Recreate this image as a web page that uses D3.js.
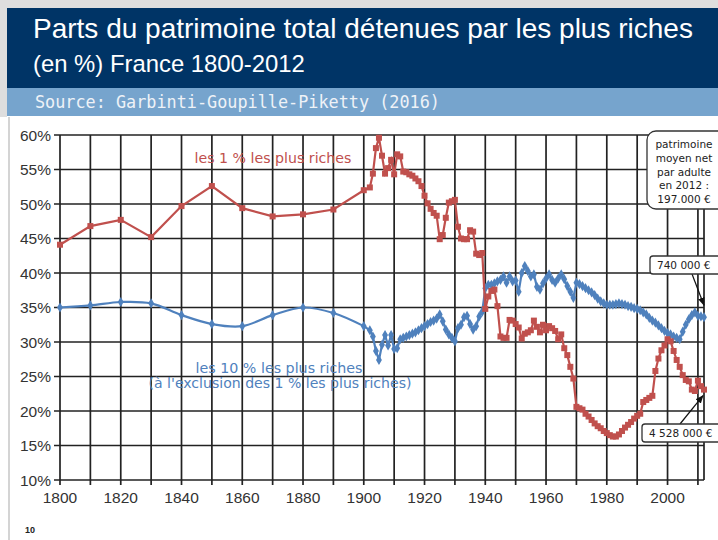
<!DOCTYPE html>
<html><head><meta charset="utf-8">
<script src="https://cdn.jsdelivr.net/npm/d3@7"></script>
<style>body{margin:0;background:#fff}svg{display:block}</style>
</head><body><svg id="c" width="718" height="540"></svg>
<script>
// ---------- data ----------
const decadeYears = [1800,1810,1820,1830,1840,1850,1860,1870,1880,1890,1900];
const annualYears = d3.range(1902, 2013);
const years = decadeYears.concat(annualYears);

const top1 = [
 44.1,46.8,47.7,45.2,49.7,52.6,49.4,48.2,48.5,49.2,52.0,
 52.4,54.4,58.1,59.6,57.0,54.4,55.2,56.4,54.3,57.2,
 56.9,54.7,54.6,54.3,54.1,53.7,53.3,52.6,51.2,50.1,
 49.3,48.7,48.3,44.9,45.5,48.0,50.2,50.4,50.6,46.7,
 45.0,44.9,44.9,46.2,46.0,42.8,42.6,42.9,34.8,36.6,
 37.4,37.6,35.2,30.8,30.6,30.6,33.2,33.1,32.6,32.1,
 30.5,31.2,31.4,31.7,33.1,32.2,31.4,32.5,31.7,32.3,
 32.0,31.6,30.4,31.1,29.1,28.1,26.4,24.7,20.6,20.4,
 20.2,19.6,19.2,18.7,18.2,17.8,17.5,17.1,16.8,16.5,
 16.3,16.3,16.6,17.1,17.6,18.0,18.4,18.9,19.3,19.6,
 21.3,21.6,21.9,22.2,25.8,27.6,28.8,29.5,30.4,30.1,
 28.7,27.4,26.4,25.2,24.5,24.3,23.1,22.9,24.4,23.6,23.1
];
const top10 = [
 35.0,35.3,35.8,35.6,33.9,32.6,32.3,33.9,35.0,34.2,32.3,
 31.7,30.8,28.7,27.4,29.6,31.0,29.5,31.0,29.0,29.1,
 30.4,30.6,30.8,31.0,31.2,31.4,31.7,32.0,32.3,32.6,
 32.9,33.1,33.4,34.0,33.0,31.8,31.1,30.6,30.1,32.0,
 32.5,33.6,33.8,32.6,31.8,32.3,33.7,34.4,37.8,38.3,
 38.3,38.5,38.8,39.0,39.5,38.6,39.5,38.8,38.9,37.3,
 40.0,41.0,40.3,39.5,39.8,38.0,37.6,38.5,39.2,39.8,
 39.0,38.6,39.2,39.8,39.1,38.1,37.3,36.4,38.6,38.4,
 38.1,37.8,37.5,37.2,36.8,36.3,35.9,35.6,35.4,35.4,
 35.4,35.5,35.6,35.5,35.4,35.2,35.1,34.9,34.8,34.6,
 34.3,34.0,33.5,33.1,32.8,32.4,32.0,31.6,31.3,31.1,
 30.8,30.6,30.4,31.5,32.5,33.3,33.9,34.3,33.8,33.7,33.6
];
const xTickYears = d3.range(1800, 2011, 10);
const xLabelYears = d3.range(1800, 2001, 20);
const yTicks = d3.range(10, 61, 5);

const titleLine1 = "Parts du patrimoine total détenues par les plus riches";
const titleLine2 = "(en %) France 1800-2012";
const sourceText = "Source: Garbinti-Goupille-Piketty  (2016)";
const label1 = "les 1 % les plus riches";
const label10a = "les 10 % les plus riches";
const label10b = "(à l'exclusion des 1 % les plus riches)";
const boxMeanLines = ["patrimoine","moyen net","par adulte","en 2012 :","197.000 €"];
const boxTop10 = "740 000 €";
const boxTop1 = "4 528 000 €";

// ---------- drawing ----------
const svg = d3.select("#c");
const RED = "#c0504d", BLUE = "#4f81bd";

function fit(sel, w) {
  const len = sel.node().getComputedTextLength();
  const fs = parseFloat(sel.attr("font-size"));
  sel.attr("font-size", (fs * w / len).toFixed(2));
}

// frame
svg.append("rect").attr("x",0).attr("y",0).attr("width",718).attr("height",8).attr("fill","#dedede");
svg.append("rect").attr("x",0).attr("y",0).attr("width",7).attr("height",117).attr("fill","#dedede");
svg.append("line").attr("x1",9).attr("x2",9).attr("y1",117).attr("y2",540).attr("stroke","#d4d4d4").attr("stroke-width",2);
// header
svg.append("rect").attr("x",7).attr("y",8).attr("width",711).attr("height",80).attr("fill","#003466");
svg.append("rect").attr("x",7).attr("y",88).attr("width",711).attr("height",28).attr("fill","#76a4cd");

const t1 = svg.append("text").attr("x",33).attr("y",38).attr("font-family","Liberation Sans, Arial, sans-serif")
  .attr("font-size",25).attr("fill","#fff").text(titleLine1);
fit(t1, 660);
const t2 = svg.append("text").attr("x",33).attr("y",72).attr("font-family","Liberation Sans, Arial, sans-serif")
  .attr("font-size",20).attr("fill","#fff").text(titleLine2);
fit(t2, 272);
const t3 = svg.append("text").attr("x",35).attr("y",108).attr("font-family","DejaVu Sans Mono, monospace")
  .attr("font-size",16).attr("fill","#eef2f7").text(sourceText);
fit(t3, 405);

// scales
const x = d3.scaleLinear().domain([1800, 2012]).range([60, 704]);
const y = d3.scaleLinear().domain([10, 60]).range([480, 135]);

// grid
const grid = svg.append("g").attr("stroke","#222").attr("stroke-width",1.7);
grid.selectAll("line.h").data(yTicks).join("line")
  .attr("x1", x(1800) - 6).attr("x2", x(2012))
  .attr("y1", d => y(d)).attr("y2", d => y(d));
grid.selectAll("line.v").data(xTickYears.concat([2012])).join("line")
  .attr("x1", d => x(d)).attr("x2", d => x(d))
  .attr("y1", y(60)).attr("y2", d => d === 2012 ? y(10) : y(10) + 5);

// axis labels
svg.append("g").selectAll("text").data(yTicks).join("text")
  .attr("x", 51).attr("y", d => y(d)).attr("dy", "0.36em").attr("text-anchor","end")
  .attr("font-family","Liberation Sans, Arial, sans-serif").attr("font-size",15.5).attr("fill","#333")
  .text(d => d + "%");
svg.append("g").selectAll("text").data(xLabelYears).join("text")
  .attr("x", d => x(d)).attr("y", 503).attr("text-anchor","middle")
  .attr("font-family","Liberation Sans, Arial, sans-serif").attr("font-size",15.5).attr("fill","#333")
  .text(d => d);

// series
const pts1 = years.map((yr, i) => [yr, top1[i]]);
const pts10 = years.map((yr, i) => [yr, top10[i]]);
const lineLin = d3.line().x(d => x(d[0])).y(d => y(d[1]));
const lineSmooth = d3.line().x(d => x(d[0])).y(d => y(d[1])).curve(d3.curveCatmullRom.alpha(0.5));

const early10 = pts10.filter(d => d[0] <= 1900);
const late10 = pts10.filter(d => d[0] >= 1900);
svg.append("path").attr("d", lineSmooth(early10)).attr("fill","none").attr("stroke",BLUE).attr("stroke-width",2.2);
svg.append("path").attr("d", lineLin(late10)).attr("fill","none").attr("stroke",BLUE).attr("stroke-width",2.2);
svg.append("g").selectAll("path").data(pts10).join("path")
  .attr("transform", d => `translate(${x(d[0])},${y(d[1])})`)
  .attr("d", d3.symbol(d3.symbolDiamond, 30)).attr("fill", BLUE);

svg.append("path").attr("d", lineLin(pts1)).attr("fill","none").attr("stroke",RED).attr("stroke-width",2.2);
svg.append("g").selectAll("rect").data(pts1).join("rect")
  .attr("x", d => x(d[0]) - 3).attr("y", d => y(d[1]) - 3).attr("width",6).attr("height",6).attr("fill", RED);

// series labels
const l1 = svg.append("text").attr("x", 273).attr("y", 163).attr("text-anchor","middle")
  .attr("font-family","DejaVu Sans, Verdana, sans-serif").attr("font-size",12).attr("fill",RED).text(label1);
fit(l1, 157);
const l2 = svg.append("text").attr("x", 279).attr("y", 373).attr("text-anchor","middle")
  .attr("font-family","DejaVu Sans, Verdana, sans-serif").attr("font-size",12).attr("fill",BLUE).text(label10a);
fit(l2, 167);
const l3 = svg.append("text").attr("x", 280).attr("y", 388).attr("text-anchor","middle")
  .attr("font-family","DejaVu Sans, Verdana, sans-serif").attr("font-size",12).attr("fill",BLUE).text(label10b);
fit(l3, 263);

// arrows
const defs = svg.append("defs");
defs.append("marker").attr("id","arr").attr("viewBox","0 0 10 10").attr("refX",9).attr("refY",5)
  .attr("markerWidth",7).attr("markerHeight",7).attr("orient","auto")
  .append("path").attr("d","M0,1 L10,5 L0,9 z").attr("fill","#111");

svg.append("line").attr("x1",692).attr("y1",274).attr("x2",x(2012)).attr("y2",y(top10[top10.length-1]) - 12)
  .attr("stroke","#111").attr("stroke-width",1.2).attr("marker-end","url(#arr)");
svg.append("line").attr("x1",680).attr("y1",424).attr("x2",x(2012) - 1).attr("y2",y(top1[top1.length-1]) + 6)
  .attr("stroke","#111").attr("stroke-width",1.2).attr("marker-end","url(#arr)");

// callout boxes
const fontBox = "DejaVu Sans, Verdana, sans-serif";
svg.append("rect").attr("x",647).attr("y",131).attr("width",80).attr("height",78).attr("rx",9)
  .attr("fill","#fff").attr("stroke","#333").attr("stroke-width",1.3);
svg.append("g").selectAll("text").data(boxMeanLines).join("text")
  .attr("x", 684).attr("y", (d, i) => 148 + i * 13.8).attr("text-anchor","middle")
  .attr("font-family", fontBox).attr("font-size",10.5).attr("fill","#222").text(d => d);

svg.append("rect").attr("x",650).attr("y",256).attr("width",75).attr("height",18).attr("rx",3)
  .attr("fill","#fff").attr("stroke","#333").attr("stroke-width",1.3);
svg.append("text").attr("x",657).attr("y",269).attr("font-family",fontBox).attr("font-size",10.5)
  .attr("fill","#222").text(boxTop10);

svg.append("rect").attr("x",642).attr("y",424).attr("width",82).attr("height",18).attr("rx",3)
  .attr("fill","#fff").attr("stroke","#333").attr("stroke-width",1.3);
svg.append("text").attr("x",649).attr("y",437).attr("font-family",fontBox).attr("font-size",10.5)
  .attr("fill","#222").text(boxTop1);

// footer page number
svg.append("text").attr("x",25).attr("y",533).attr("font-family","Liberation Sans, Arial, sans-serif")
  .attr("font-size",9).attr("font-weight","bold").attr("fill","#222").text("10");
</script></body></html>
